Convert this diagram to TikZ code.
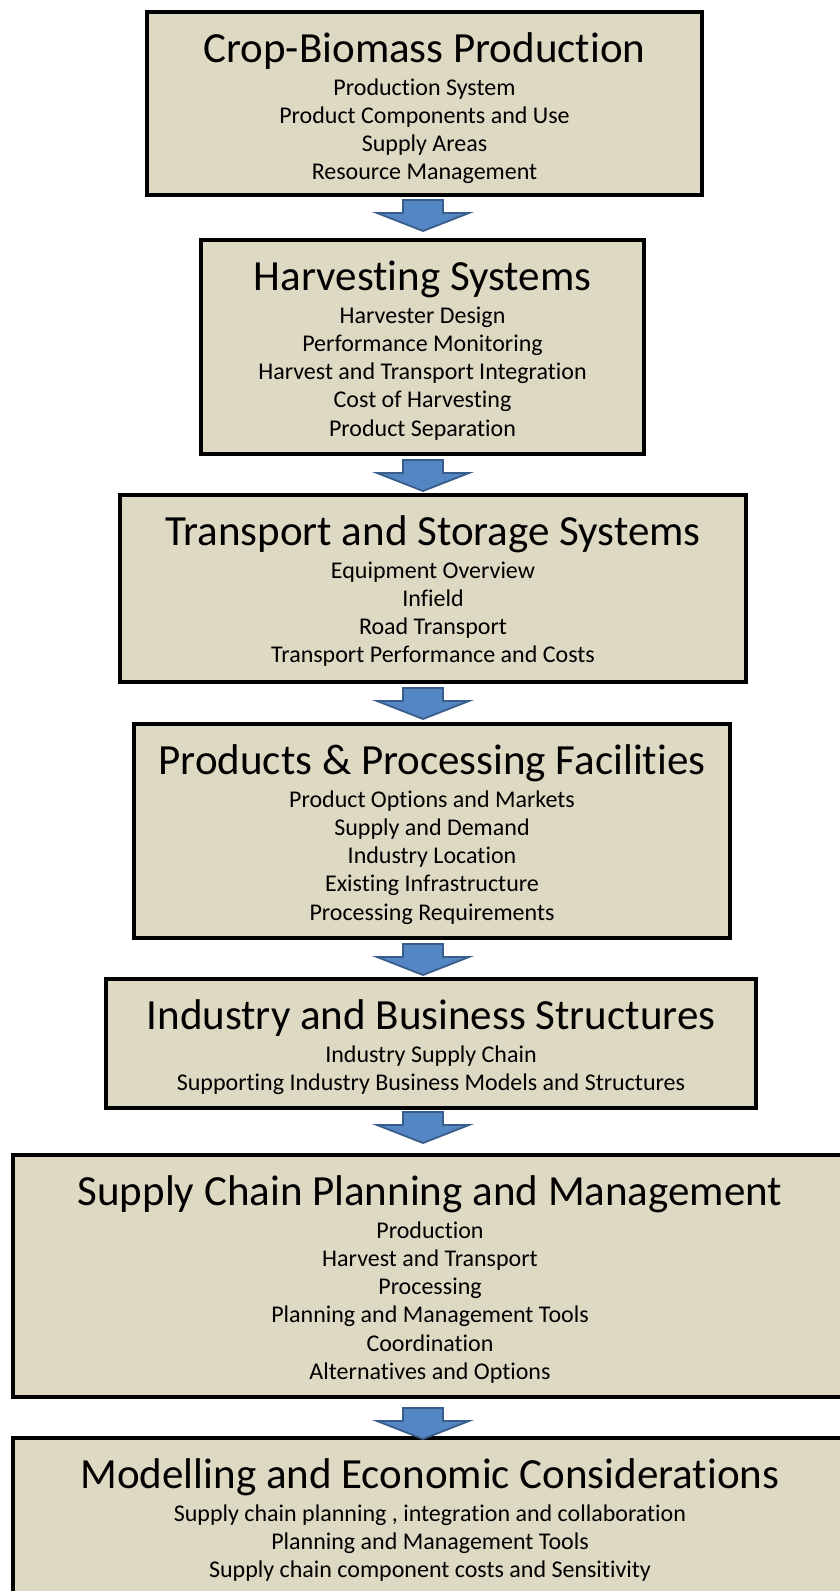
\documentclass[tikz,border=0pt]{standalone}
\usepackage{fontspec}
\setmainfont{Carlito}[Ligatures=NoCommon]
\definecolor{boxfill}{RGB}{221,217,195}
\definecolor{arrfill}{RGB}{84,134,196}
\definecolor{arrdraw}{RGB}{56,93,138}
\tikzset{
  stagebox/.style={draw=black, line width=4pt, fill=boxfill, inner sep=0pt},
  stagetitle/.style={anchor=base, inner sep=0pt, font=\fontsize{43}{48}\selectfont},
  stageitem/.style={anchor=base, inner sep=0pt, font=\fontsize{24}{28}\selectfont},
  flowarrow/.style={fill=arrfill, draw=arrdraw, line width=1.8pt, line join=miter}
}
\newcommand{\flowarr}[3]{% name, x, ytop
  \path[flowarrow] (#2-20,#3) -- (#2+20,#3) -- (#2+20,#3+13) -- (#2+46,#3+13) -- (#2,#3+31) -- (#2-46,#3+13) -- (#2-20,#3+13) -- cycle;
  \coordinate (#1) at (#2,#3);
}
\begin{document}
\begin{tikzpicture}[x=1pt,y=-1pt]
\useasboundingbox (0,0) rectangle (840,1591);
% Box 1
\node[stagebox, minimum width=555pt, minimum height=183pt] (b1) at (424.5,103.5) {};
\node[stagetitle] (b1t) at (424.5,62) {Crop-Biomass Production};
\foreach \s [count=\i] in {Production System, Product Components and Use, Supply Areas, Resource Management}
  \node[stageitem] (b1i\i) at (424.5,{95+28.3*(\i-1)}) {\s};
% Box 2
\node[stagebox, minimum width=443pt, minimum height=214pt] (b2) at (422.5,347) {};
\node[stagetitle] (b2t) at (422.5,290) {Harvesting Systems};
\foreach \s [count=\i] in {Harvester Design, Performance Monitoring, Harvest and Transport Integration, Cost of Harvesting, Product Separation}
  \node[stageitem] (b2i\i) at (422.5,{323+28.3*(\i-1)}) {\s};
% Box 3
\node[stagebox, minimum width=626pt, minimum height=187pt] (b3) at (433,588.5) {};
\node[stagetitle] (b3t) at (433,545) {Transport and Storage Systems};
\foreach \s [count=\i] in {Equipment Overview, Infield, Road Transport, Transport Performance and Costs}
  \node[stageitem] (b3i\i) at (433,{578+28.3*(\i-1)}) {\s};
% Box 4
\node[stagebox, minimum width=596pt, minimum height=214pt] (b4) at (432,831) {};
\node[stagetitle] (b4t) at (432,774) {Products \& Processing Facilities};
\foreach \s [count=\i] in {Product Options and Markets, Supply and Demand, Industry Location, Existing Infrastructure, Processing Requirements}
  \node[stageitem] (b4i\i) at (432,{807+28.3*(\i-1)}) {\s};
% Box 5
\node[stagebox, minimum width=649.5pt, minimum height=129pt] (b5) at (431,1043.5) {};
\node[stagetitle] (b5t) at (431,1029) {Industry and Business Structures};
\foreach \s [count=\i] in {Industry Supply Chain, Supporting Industry Business Models and Structures}
  \node[stageitem] (b5i\i) at (431,{1062+28.3*(\i-1)}) {\s};
% Box 6
\node[stagebox, minimum width=837pt, minimum height=242pt] (b6) at (431.5,1276) {};
\node[stagetitle] (b6t) at (430,1205) {Supply Chain Planning and Management};
\foreach \s [count=\i] in {Production, Harvest and Transport, Processing, Planning and Management Tools, Coordination, Alternatives and Options}
  \node[stageitem] (b6i\i) at (430,{1238+28.3*(\i-1)}) {\s};
% Box 7
\node[stagebox, minimum width=837pt, minimum height=182pt] (b7) at (431.5,1529) {};
\node[stagetitle] (b7t) at (430,1488) {Modelling and Economic Considerations};
\foreach \s [count=\i] in {{Supply chain planning , integration and collaboration}, Planning and Management Tools, Supply chain component costs and Sensitivity}
  \node[stageitem] (b7i\i) at (430,{1521+28.3*(\i-1)}) {\s};
% Arrows
\flowarr{a1}{423}{200}
\flowarr{a2}{423}{460}
\flowarr{a3}{423}{688}
\flowarr{a4}{423}{944}
\flowarr{a5}{423}{1112}
\flowarr{a6}{423}{1408}
\end{tikzpicture}
\end{document}
